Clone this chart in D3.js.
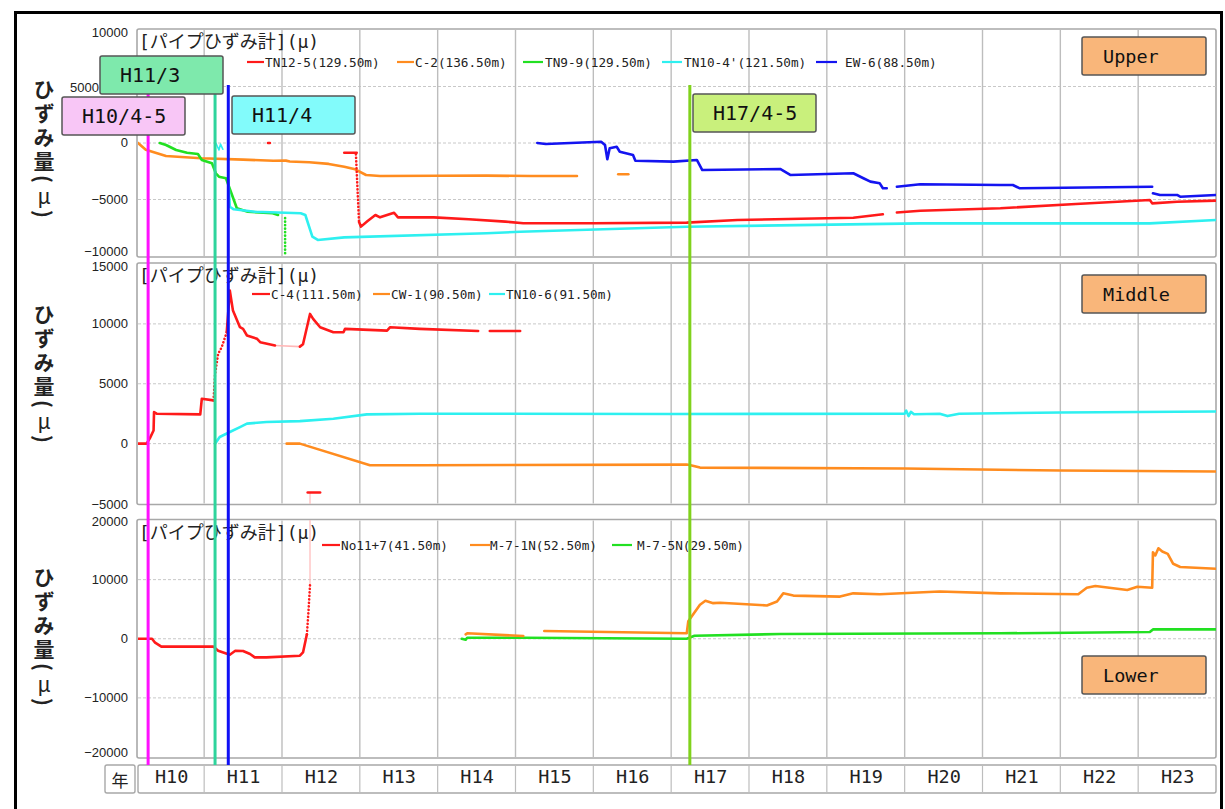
<!DOCTYPE html>
<html>
<head>
<meta charset="utf-8">
<script src="https://cdn.jsdelivr.net/npm/d3@7"></script>
<style>
  body { margin: 0; background: #fff; }
  svg { display: block; }
</style>
</head>
<body>
<svg id="chart" width="1225" height="809"></svg>
<script>
// ---- time axis (Heisei years) ----
const yearLabels = ["H10","H11","H12","H13","H14","H15","H16","H17","H18","H19","H20","H21","H22","H23"];
const yearBounds = [10.15, 11, 12, 13, 14, 15, 16, 17, 18, 19, 20, 21, 22, 23, 24];

// ---- y ticks per depth ----
const upperTicks  = [10000, 5000, 0, -5000, -10000];
const middleTicks = [15000, 10000, 5000, 0, -5000];
const lowerTicks  = [20000, 10000, 0, -10000, -20000];

// ---- events ----
const eventLabels = ["H10/4-5", "H11/3", "H11/4", "H17/4-5"];
const eventTimes  = [10.28, 11.14, 11.31, 17.24];

// ---- Upper: pipe strain gauges [year, strain μ] ----
const c2_a = [[10.15,0],[10.25,-600],[10.51,-1150],[10.96,-1350],[11.5,-1470],[11.89,-1570],[12.05,-1560],[12.1,-1640],[12.35,-1710],[12.6,-1850],[12.8,-2100],[12.94,-2330],[13.08,-2830],[13.26,-2920],[14.0,-2900],[14.63,-2890],[15.2,-2920],[15.79,-2920]];
const c2_b = [[16.32,-2770],[16.45,-2770]];

const tn9_9 = [[10.43,0],[10.51,-180],[10.64,-620],[10.78,-860],[10.92,-980],[10.97,-1500],[11.1,-1800],[11.15,-2680],[11.19,-2980],[11.28,-3120],[11.42,-5780],[11.56,-6080],[11.88,-6220],[11.95,-6370]];
const tn9_9_drop = [[12.04,-6640],[12.04,-9910]];

const tn10_4_tick = [[11.15,0],[11.19,-620],[11.21,-100],[11.24,-550]];
const tn10_4 = [[11.31,-3270],[11.33,-5640],[11.38,-5870],[11.65,-6080],[12.24,-6220],[12.3,-6370],[12.39,-8290],[12.46,-8580],[12.8,-8350],[14.63,-7990],[15.06,-7850],[17.2,-7410],[20.2,-7110],[23.15,-7110],[24.0,-6815]];

const tn12_5_dot  = [[11.82,0],[11.845,0]];
const tn12_5_dash = [[12.8,-860],[12.96,-860]];
const tn12_5_drop = [[12.95,-1000],[12.99,-7000]];
const tn12_5_a = [[12.99,-7000],[13.015,-7400],[13.1,-6900],[13.2,-6370],[13.26,-6580],[13.35,-6370],[13.44,-6170],[13.49,-6580],[13.95,-6580],[14.4,-6750],[14.87,-6960],[15.1,-7100],[16.0,-7100],[17.2,-7050],[17.85,-6820],[19.34,-6610],[19.72,-6310]];
const tn12_5_b = [[19.9,-6150],[20.2,-5990],[21.23,-5780],[22.2,-5400],[23.15,-5050],[23.18,-5340],[23.5,-5200],[24.0,-5100]];

const ew6_a = [[15.28,0],[15.39,-90],[16.1,110],[16.15,-180],[16.18,-1440],[16.21,-470],[16.3,-330],[16.34,-770],[16.51,-1060],[16.54,-1570],[17.03,-1650],[17.33,-1500],[17.4,-2390],[18.4,-2300],[18.53,-2830],[19.34,-2680],[19.47,-3120],[19.56,-3420],[19.68,-3570],[19.72,-4010],[19.77,-4010]];
const ew6_b = [[19.9,-3870],[20.2,-3650],[21.23,-3720],[21.39,-3720],[21.48,-4010],[23.18,-3870]];
const ew6_c = [[23.19,-4450],[23.28,-4600],[23.5,-4600],[23.54,-4750],[24.0,-4600]];

// ---- Middle ----
const c4_a = [[10.15,0],[10.26,0],[10.3,420],[10.35,1100],[10.356,2630],[10.39,2500],[10.95,2440],[10.97,3750],[11.12,3610]];
const c4_rise = [[11.12,3610],[11.14,5800],[11.18,7500],[11.225,8050],[11.29,9300]];
const c4_b = [[11.29,9300],[11.33,12780],[11.37,11110],[11.46,9720],[11.5,9580],[11.55,9030],[11.68,8750],[11.72,8470],[11.91,8190]];
const c4_gap = [[11.91,8190],[12.23,8100]];
const c4_c = [[12.23,8100],[12.27,8300],[12.36,10830],[12.4,10420],[12.49,9720],[12.66,9300],[12.79,9300],[12.81,9580],[13.35,9440],[13.39,9720],[13.77,9580],[14.52,9400]];
const c4_d = [[14.67,9400],[15.06,9400]];
const c4_dash = [[12.33,-4080],[12.49,-4080]];
const c4_trace = [[12.36,-4080],[12.36,-5000]];

const tn10_6 = [[11.14,0],[11.2,550],[11.33,970],[11.46,1380],[11.55,1670],[11.8,1800],[12.23,1880],[12.66,2080],[13.09,2440],[13.77,2500],[17.0,2480],[20.0,2500],[20.02,2750],[20.05,2300],[20.08,2650],[20.12,2450],[20.45,2500],[20.55,2300],[20.7,2500],[22.0,2600],[24.0,2680]];

const cw1 = [[12.06,0],[12.23,0],[13.13,-1810],[13.77,-1810],[17.2,-1750],[17.25,-1800],[17.37,-2000],[20.0,-2080],[22.0,-2250],[24.0,-2330]];

// ---- Lower ----
const no11_7 = [[10.15,0],[10.33,0],[10.37,-670],[10.45,-1330],[11.12,-1330],[11.18,-2030],[11.33,-2700],[11.4,-2030],[11.5,-2080],[11.59,-2580],[11.65,-3150],[11.8,-3150],[12.23,-2870],[12.27,-2320],[12.32,750]];
const no11_7_rise = [[12.32,750],[12.34,4630],[12.36,9080]];
const no11_7_trace = [[12.36,9080],[12.36,20000]];

const m7_5n = [[14.31,0],[14.36,-170],[14.38,170],[15.1,170],[17.2,0],[17.3,500],[18.4,800],[21.23,920],[23.15,1130],[23.19,1580],[24.0,1580]];
const m7_1n_a = [[14.36,750],[14.38,920],[15.1,470]];
const m7_1n_b = [[15.37,1300],[17.2,920],[17.22,2970],[17.37,5750],[17.44,6420],[17.54,6020],[17.63,6100],[18.23,5630],[18.36,6300],[18.44,7680],[18.57,7300],[19.17,7130],[19.34,7680],[19.68,7520],[20.45,8000],[21.23,7680],[22.23,7520],[22.34,8630],[22.45,8920],[22.86,8250],[22.99,8800],[23.18,8630],[23.19,14630],[23.22,14080],[23.26,15300],[23.31,14750],[23.38,14350],[23.45,12680],[23.54,12130],[24.0,11850]];

// ---- colours ----
const RED = "#ff1a1a", ORANGE = "#ff8c1f", GREEN = "#22e022", CYAN = "#2ef0f0", BLUE = "#1414f0";
const FAINT = "#ffb8b8";

const svg = d3.select("#chart");
const MONO = "'DejaVu Sans Mono', 'Noto Sans CJK JP', monospace";
const CJK = "'Noto Sans CJK JP', sans-serif";

const x = d3.scaleLinear().domain([yearBounds[0], yearBounds[yearBounds.length - 1]]).range([138, 1216]);

const panels = [
  { id: "upper", top: 30, bottom: 256, domain: [-10000, 10000], ticks: upperTicks, label: "Upper",
    box: [1082, 37], titleY: 41, legendY: 62, yl: 79, edgeShift: [3, -4],
    labelShift: { 5000: [-29, 1] },
    legend: [
      { name: "TN12-5(129.50m)", color: RED,    l: [247, 264], t: 265 },
      { name: "C-2(136.50m)",    color: ORANGE, l: [397, 414], t: 415 },
      { name: "TN9-9(129.50m)",  color: GREEN,  l: [523, 543], t: 545 },
      { name: "TN10-4'(121.50m)",color: CYAN,   l: [662, 682], t: 684 },
      { name: "EW-6(88.50m)",    color: BLUE,   l: [816, 837], t: 845 }
    ],
    series: [
      { d: c2_a, c: ORANGE }, { d: c2_b, c: ORANGE },
      { d: tn9_9, c: GREEN }, { d: tn9_9_drop, c: GREEN, dotted: true },
      { d: tn10_4_tick, c: CYAN, w: 1.6 }, { d: tn10_4, c: CYAN },
      { d: tn12_5_dot, c: RED }, { d: tn12_5_dash, c: RED }, { d: tn12_5_drop, c: RED, dotted: true },
      { d: tn12_5_a, c: RED }, { d: tn12_5_b, c: RED },
      { d: ew6_a, c: BLUE }, { d: ew6_b, c: BLUE }, { d: ew6_c, c: BLUE }
    ] },
  { id: "middle", top: 264, bottom: 503.5, domain: [-5000, 15000], ticks: middleTicks, label: "Middle",
    box: [1082, 275], titleY: 275, legendY: 294, yl: 304, edgeShift: [3, 1.5], labelShift: {},
    legend: [
      { name: "C-4(111.50m)",   color: RED,    l: [252, 270], t: 271 },
      { name: "CW-1(90.50m)",   color: ORANGE, l: [373, 390], t: 391 },
      { name: "TN10-6(91.50m)", color: CYAN,   l: [489, 505], t: 506 }
    ],
    series: [
      { d: cw1, c: ORANGE }, { d: tn10_6, c: CYAN },
      { d: c4_trace, c: FAINT, w: 1.2 }, { d: c4_gap, c: FAINT, w: 1.6 },
      { d: c4_a, c: RED }, { d: c4_rise, c: RED, dotted: true }, { d: c4_b, c: RED },
      { d: c4_c, c: RED }, { d: c4_d, c: RED }, { d: c4_dash, c: RED }
    ] },
  { id: "lower", top: 520.5, bottom: 757, domain: [-20000, 20000], ticks: lowerTicks, label: "Lower",
    box: [1082, 656], titleY: 532, legendY: 545, yl: 567, edgeShift: [1.5, -4], labelShift: {},
    legend: [
      { name: "No11+7(41.50m)", color: RED,    l: [322, 340], t: 341 },
      { name: "M-7-1N(52.50m)", color: ORANGE, l: [470, 490], t: 490 },
      { name: "M-7-5N(29.50m)", color: GREEN,  l: [612, 632], t: 637 }
    ],
    series: [
      { d: no11_7_trace, c: FAINT, w: 1.2 },
      { d: m7_5n, c: GREEN }, { d: m7_1n_a, c: ORANGE }, { d: m7_1n_b, c: ORANGE },
      { d: no11_7, c: RED }, { d: no11_7_rise, c: RED, dotted: true }
    ] }
];

const defs = svg.append("defs");

panels.forEach(p => {
  const y = d3.scaleLinear().domain(p.domain).range([p.bottom, p.top]);
  const g = svg.append("g").attr("class", "panel-" + p.id);

  // plot frame
  g.append("rect")
    .attr("x", x.range()[0] - 1).attr("y", p.top - 1)
    .attr("width", x.range()[1] - x.range()[0] + 1).attr("height", p.bottom - p.top + 2)
    .attr("rx", 2).attr("fill", "#fff").attr("stroke", "#a8a8a8").attr("stroke-width", 1.6);

  // horizontal grid
  g.selectAll(".hgrid").data(p.ticks.filter(t => t !== p.domain[0] && t !== p.domain[1]))
    .join("line")
    .attr("x1", x.range()[0]).attr("x2", x.range()[1])
    .attr("y1", d => y(d)).attr("y2", d => y(d))
    .attr("stroke", "#c8c8c8").attr("stroke-width", 1).attr("stroke-dasharray", "3,2");

  // vertical grid at year boundaries
  g.selectAll(".vgrid").data(yearBounds.slice(1, -1))
    .join("line")
    .attr("x1", d => x(d)).attr("x2", d => x(d))
    .attr("y1", p.top).attr("y2", p.bottom)
    .attr("stroke", "#bdbdbd").attr("stroke-width", 1.4);

  // y axis labels (end labels nudged to sit inside the frame)
  const ax = g.append("g").attr("transform", `translate(${x.range()[0] - 10},0)`)
    .call(d3.axisLeft(y).tickValues(p.ticks).tickSize(0).tickPadding(0).tickFormat(d3.format("d")));
  ax.select(".domain").remove();
  ax.selectAll("text").attr("font-family", "'Liberation Sans', Arial, sans-serif")
    .attr("font-size", 13).attr("fill", "#222").attr("dy", "0.32em");
  ax.selectAll(".tick").attr("transform", d => {
    let dx = 0, dy = 0;
    if (d === p.domain[1]) dy = p.edgeShift[0];
    if (d === p.domain[0]) dy = p.edgeShift[1];
    if (p.labelShift[d]) { dx = p.labelShift[d][0]; dy = p.labelShift[d][1]; }
    return `translate(${dx},${y(d) + dy})`;
  });

  // series
  defs.append("clipPath").attr("id", "clip-" + p.id).append("rect")
    .attr("x", x.range()[0]).attr("y", p.top - 1)
    .attr("width", x.range()[1] - x.range()[0]).attr("height", p.bottom - p.top + 2);
  const line = d3.line().x(d => x(d[0])).y(d => y(d[1]));
  const sg = g.append("g").attr("clip-path", `url(#clip-${p.id})`);
  p.series.forEach(s => {
    const path = sg.append("path").attr("d", line(s.d))
      .attr("fill", "none").attr("stroke", s.c)
      .attr("stroke-width", s.w || 2.6)
      .attr("stroke-linejoin", "round").attr("stroke-linecap", "round");
    if (s.dotted) path.attr("stroke-dasharray", "0.1,3.4").attr("stroke-width", 2.6);
  });

  // legend title
  g.append("text").attr("x", 139).attr("y", p.titleY)
    .attr("dominant-baseline", "central")
    .attr("font-family", MONO).attr("font-size", 18).attr("fill", "#222")
    .text("[パイプひずみ計](μ)");

  // legend entries
  p.legend.forEach(it => {
    g.append("line").attr("x1", it.l[0]).attr("x2", it.l[1])
      .attr("y1", p.legendY).attr("y2", p.legendY)
      .attr("stroke", it.color).attr("stroke-width", 2.2);
    g.append("text").attr("x", it.t).attr("y", p.legendY)
      .attr("dominant-baseline", "central")
      .attr("font-family", MONO).attr("font-size", 12.7).attr("fill", "#222")
      .text(it.name);
  });

  // vertical axis title ひずみ量(μ)
  const vt = svg.append("text").attr("x", 44).attr("y", p.yl)
    .attr("font-family", CJK).attr("font-weight", 700).attr("font-size", 21)
    .attr("letter-spacing", 3).attr("fill", "#222")
    .style("writing-mode", "vertical-rl").style("text-orientation", "mixed");
  vt.append("tspan").text("ひずみ量(");
  vt.append("tspan").attr("font-weight", 400).style("text-orientation", "upright").text("μ");
  vt.append("tspan").text(")");
});

// ---- time axis row ----
const axisTop = 765, axisH = 28;
const xr = svg.append("g");
xr.append("rect").attr("x", 105).attr("y", axisTop).attr("width", 30).attr("height", axisH)
  .attr("rx", 2).attr("fill", "#fff").attr("stroke", "#a8a8a8").attr("stroke-width", 1.4);
xr.append("text").attr("x", 120).attr("y", axisTop + axisH / 2)
  .attr("text-anchor", "middle").attr("dominant-baseline", "central")
  .attr("font-family", CJK).attr("font-size", 17).attr("fill", "#222").text("年");
xr.append("rect").attr("x", x.range()[0]).attr("y", axisTop)
  .attr("width", x.range()[1] - x.range()[0]).attr("height", axisH)
  .attr("rx", 2).attr("fill", "#fff").attr("stroke", "#a8a8a8").attr("stroke-width", 1.4);
xr.selectAll(".sep").data(yearBounds.slice(1, -1)).join("line")
  .attr("x1", d => x(d)).attr("x2", d => x(d))
  .attr("y1", axisTop).attr("y2", axisTop + axisH)
  .attr("stroke", "#bdbdbd").attr("stroke-width", 1.2);
const mids = yearLabels.map((_, i) => (yearBounds[i] + yearBounds[i + 1]) / 2);
const xa = xr.append("g").attr("transform", `translate(0,${axisTop + 5})`)
  .call(d3.axisBottom(x).tickValues(mids).tickSize(0).tickPadding(0)
    .tickFormat((d, i) => yearLabels[i]));
xa.select(".domain").remove();
xa.selectAll("text").attr("font-family", MONO).attr("font-size", 18.5).attr("fill", "#222");

// ---- event lines ----
const eventColors = ["#ff10ff", "#2fd49c", "#1010f5", "#80d21c"];
svg.append("g").selectAll("line").data(eventTimes).join("line")
  .attr("x1", d => x(d)).attr("x2", d => x(d))
  .attr("y1", 85).attr("y2", axisTop)
  .attr("stroke", (d, i) => eventColors[i]).attr("stroke-width", 3);

// ---- event label boxes ----
const eventBoxes = [
  { x: 62,  y: 97, fill: "#f8c6f6" },
  { x: 100, y: 56, fill: "#7ee9ac" },
  { x: 232, y: 96, fill: "#82fbfb" },
  { x: 693, y: 94, fill: "#c9f07c" }
];
eventLabels.forEach((lab, i) => {
  const b = eventBoxes[i];
  svg.append("rect").attr("x", b.x).attr("y", b.y).attr("width", 123).attr("height", 38)
    .attr("rx", 2).attr("fill", b.fill).attr("stroke", "#555").attr("stroke-width", 1.5);
  svg.append("text").attr("x", b.x + 20).attr("y", b.y + 19)
    .attr("dominant-baseline", "central")
    .attr("font-family", MONO).attr("font-size", 20).attr("fill", "#111").text(lab);
});

// ---- depth boxes ----
panels.forEach(p => {
  svg.append("rect").attr("x", p.box[0]).attr("y", p.box[1]).attr("width", 124).attr("height", 38)
    .attr("rx", 2).attr("fill", "#f9b67a").attr("stroke", "#555").attr("stroke-width", 1.5);
  svg.append("text").attr("x", p.box[0] + 21).attr("y", p.box[1] + 19)
    .attr("dominant-baseline", "central")
    .attr("font-family", MONO).attr("font-size", 18.5).attr("fill", "#111").text(p.label);
});

// ---- outer border ----
svg.append("rect").attr("x", 15.5).attr("y", 12.5).attr("width", 1206).attr("height", 830)
  .attr("fill", "none").attr("stroke", "#000").attr("stroke-width", 3);
</script>
</body>
</html>
